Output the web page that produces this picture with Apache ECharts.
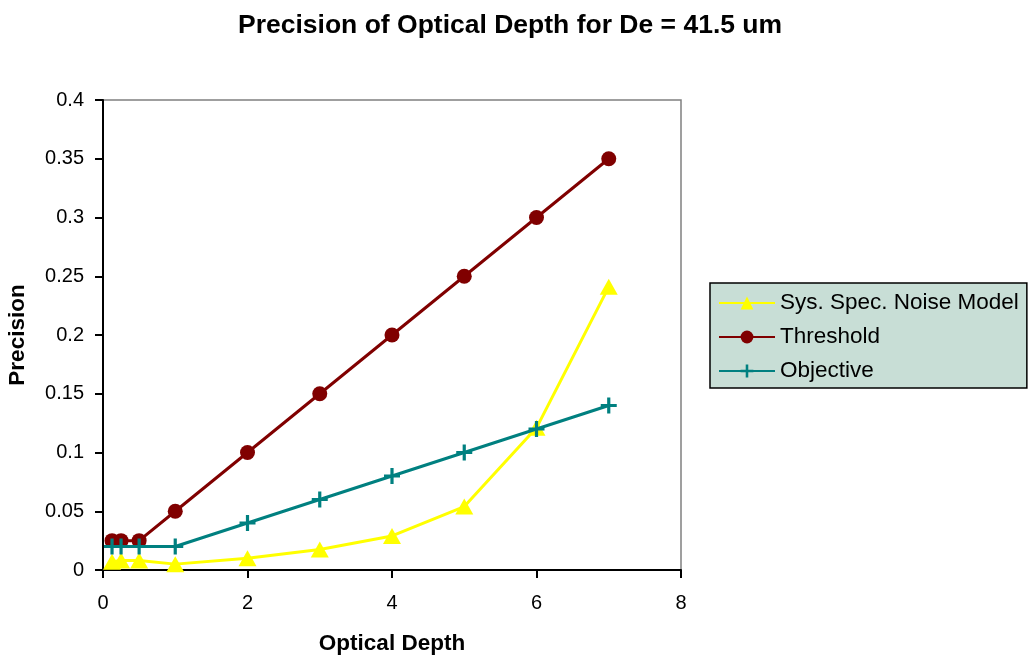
<!DOCTYPE html>
<html><head><meta charset="utf-8">
<script src="https://cdn.jsdelivr.net/npm/echarts@6/dist/echarts.min.js"></script>
<style>html,body{margin:0;padding:0;background:#fff}#c{width:1029px;height:658px}</style>
</head><body><div id="c"></div>
<script>
const depths = [0.125, 0.25, 0.5, 1, 2, 3, 4, 5, 6, 7];
const sysNoise = [0.007, 0.008, 0.008, 0.005, 0.01, 0.0175, 0.029, 0.054, 0.121, 0.241];
const threshold = [0.025, 0.025, 0.025, 0.05, 0.1, 0.15, 0.2, 0.25, 0.3, 0.35];
const objective = [0.02, 0.02, 0.02, 0.02, 0.04, 0.06, 0.08, 0.1, 0.12, 0.14];
const seriesNames = ['Sys. Spec. Noise Model', 'Threshold', 'Objective'];

const plus = 'path://M4,0H6V4H10V6H6V10H4V6H0V4H4Z';
const font = 'Liberation Sans, Arial, sans-serif';
const pair = (arr) => depths.map((d, i) => [d, arr[i]]);

const chart = echarts.init(document.getElementById('c'));
chart.setOption({
  animation: false,
  title: {
    text: 'Precision of Optical Depth for De = 41.5 um',
    left: 233, top: 7,
    textStyle: { fontFamily: font, fontSize: 26.5, fontWeight: 'bold', color: '#000' }
  },
  grid: { left: 103, right: 348, top: 100, bottom: 88, outerBoundsMode: 'none', containLabel: false,
          show: true, borderColor: '#808080', borderWidth: 1.5 },
  legend: {
    orient: 'vertical', left: 710, top: 283,
    backgroundColor: '#c8ded6', borderColor: '#000', borderWidth: 1.5,
    padding: [8, 8, 5, 8], itemGap: 10, itemWidth: 56, itemHeight: 16,
    textStyle: { fontFamily: font, fontSize: 22.5, color: '#000', lineHeight: 24 },
    data: seriesNames
  },
  xAxis: {
    type: 'value', min: 0, max: 8, interval: 2,
    name: 'Optical Depth', nameLocation: 'middle', nameGap: 62,
    nameTextStyle: { fontFamily: font, fontSize: 22.5, fontWeight: 'bold', color: '#000' },
    axisLine: { show: true, lineStyle: { color: '#000', width: 2 } },
    axisTick: { show: true, length: 8, lineStyle: { color: '#000', width: 2 } },
    axisLabel: { fontFamily: font, fontSize: 20, color: '#000', margin: 23 },
    splitLine: { show: false }
  },
  yAxis: {
    type: 'value', min: 0, max: 0.4, interval: 0.05,
    name: 'Precision', nameLocation: 'middle', nameGap: 74, nameRotate: 90,
    nameTextStyle: { fontFamily: font, fontSize: 22.5, fontWeight: 'bold', color: '#000' },
    axisLine: { show: true, lineStyle: { color: '#000', width: 2 } },
    axisTick: { show: true, length: 8, lineStyle: { color: '#000', width: 2 } },
    axisLabel: { fontFamily: font, fontSize: 20, color: '#000', margin: 19 },
    splitLine: { show: false }
  },
  series: [
    {
      name: seriesNames[0], type: 'line', data: pair(sysNoise),
      symbol: 'triangle', symbolSize: [18, 16],
      lineStyle: { color: '#ffff00', width: 3 }, itemStyle: { color: '#ffff00' }, z: 2
    },
    {
      name: seriesNames[1], type: 'line', data: pair(threshold),
      symbol: 'circle', symbolSize: 15,
      lineStyle: { color: '#800000', width: 3 }, itemStyle: { color: '#800000' }, z: 3
    },
    {
      name: seriesNames[2], type: 'line', data: pair(objective),
      symbol: plus, symbolSize: 16,
      lineStyle: { color: '#008080', width: 3 }, itemStyle: { color: '#008080' }, z: 4
    }
  ]
});
</script></body></html>
